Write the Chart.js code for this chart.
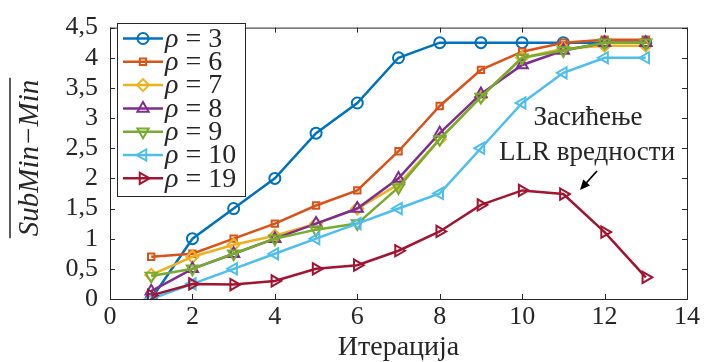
<!DOCTYPE html>
<html>
<head>
<meta charset="utf-8">
<script src="https://cdn.jsdelivr.net/npm/chart.js@4/dist/chart.umd.min.js"></script>
<style>
  html, body { margin: 0; padding: 0; background: #fff; }
  #wrap { width: 706px; height: 362px; position: relative; }
</style>
</head>
<body>
<div id="wrap"><canvas id="c" width="706" height="362"></canvas></div>
<script>
// Iteration index and average SubMin−Min per iteration for several ρ values
const iterations = [1, 2, 3, 4, 5, 6, 7, 8, 9, 10, 11, 12, 13];
const rho3  = [0, 1, 1.5, 2, 2.75, 3.25, 4, 4.25, 4.25, 4.25, 4.25, 4.25, 4.25];
const rho6  = [0.7, 0.75, 1, 1.25, 1.55, 1.8, 2.45, 3.2, 3.8, 4.1, 4.25, 4.3, 4.3];
const rho7  = [0.4, 0.7, 0.9, 1.05, 1.25, 1.5, 1.9, 2.65, 3.35, 4.0, 4.15, 4.2, 4.2];
const rho8  = [0.13, 0.5, 0.75, 1.0, 1.25, 1.5, 2.0, 2.75, 3.4, 3.88, 4.12, 4.25, 4.25];
const rho9  = [0.38, 0.5, 0.75, 1.0, 1.15, 1.25, 1.85, 2.65, 3.35, 4.0, 4.12, 4.25, 4.25];
const rho10 = [0, 0.25, 0.5, 0.75, 1.0, 1.25, 1.5, 1.75, 2.5, 3.25, 3.75, 4.0, 4.0];
const rho19 = [0.06, 0.25, 0.24, 0.3, 0.5, 0.56, 0.8, 1.12, 1.56, 1.8, 1.74, 1.11, 0.36];

const rhoLabels = ['3', '6', '7', '8', '9', '10', '19'];
const xTicks = [0, 2, 4, 6, 8, 10, 12, 14];
const yTicks = [0, 0.5, 1, 1.5, 2, 2.5, 3, 3.5, 4, 4.5];
const xTitle = 'Итерација';
const yTitle = 'SubMin−Min';
const noteLines = ['Засићење', 'LLR вредности'];

const SERIF = "'Liberation Serif'";
const INK = '#262626';

const seriesValues = [rho3, rho6, rho7, rho8, rho9, rho10, rho19];
const styles = [
  { color: '#0072BD', point: 'circle',   rot: 0,   r: 5.5 },
  { color: '#D95319', point: 'rect',     rot: 0,   r: 4.5 },
  { color: '#EDB120', point: 'rectRot',  rot: 0,   r: 6 },
  { color: '#7E2F8E', point: 'triangle', rot: 0,   r: 6.5 },
  { color: '#77AC30', point: 'triangle', rot: 180, r: 6.5 },
  { color: '#4DBEEE', point: 'triangle', rot: 270, r: 6.5 },
  { color: '#A2142F', point: 'triangle', rot: 90,  r: 6.5 }
];

const datasets = seriesValues.map((vals, i) => ({
  label: 'ρ = ' + rhoLabels[i],
  data: iterations.map((x, k) => ({ x: x, y: vals[k] })),
  borderColor: styles[i].color,
  backgroundColor: styles[i].color,
  borderWidth: 2.5,
  pointStyle: styles[i].point,
  pointRotation: styles[i].rot,
  pointRadius: styles[i].r,
  pointBorderWidth: 2,
  pointBorderColor: styles[i].color,
  pointBackgroundColor: 'rgba(0,0,0,0)',
  tension: 0,
  order: seriesValues.length - i
}));

// Box frame with inward ticks on all sides, titles, note and legend
const framePlugin = {
  id: 'frame',
  beforeDatasetsDraw(chart) {
    const { ctx, chartArea: a, scales } = chart;
    ctx.save();
    ctx.strokeStyle = INK;
    ctx.lineWidth = 1;
    ctx.strokeRect(a.left + 0.5, a.top + 0.5, a.right - a.left, a.bottom - a.top);
    const tl = 5;
    ctx.beginPath();
    xTicks.forEach(v => {
      const px = Math.round(scales.x.getPixelForValue(v)) + 0.5;
      ctx.moveTo(px, a.bottom); ctx.lineTo(px, a.bottom - tl);
      ctx.moveTo(px, a.top); ctx.lineTo(px, a.top + tl);
    });
    yTicks.forEach(v => {
      const py = Math.round(scales.y.getPixelForValue(v)) + 0.5;
      ctx.moveTo(a.left, py); ctx.lineTo(a.left + tl, py);
      ctx.moveTo(a.right, py); ctx.lineTo(a.right - tl, py);
    });
    ctx.stroke();
    ctx.restore();
  },
  afterDatasetsDraw(chart) {
    const { ctx, chartArea: a } = chart;
    ctx.save();
    // axis titles
    ctx.fillStyle = INK;
    ctx.textAlign = 'center';
    ctx.textBaseline = 'alphabetic';
    ctx.font = '28px ' + SERIF;
    ctx.fillText(xTitle, (a.left + a.right) / 2, 355);

    ctx.save();
    ctx.translate(38, 158);
    ctx.rotate(-Math.PI / 2);
    ctx.font = 'italic 29px ' + SERIF;
    const w = ctx.measureText(yTitle).width;
    ctx.fillText(yTitle, 0, 0);
    ctx.strokeStyle = INK;
    ctx.lineWidth = 1.5;
    ctx.beginPath();
    ctx.moveTo(-w / 2 - 2, -28);
    ctx.lineTo(w / 2 + 2, -28);
    ctx.stroke();
    ctx.restore();

    // note text and arrow
    ctx.font = '27px ' + SERIF;
    ctx.fillStyle = INK;
    ctx.textAlign = 'center';
    ctx.textBaseline = 'middle';
    ctx.fillText(noteLines[0], 588, 118);
    ctx.fillText(noteLines[1], 587, 153);

    const x1 = 597, y1 = 171, x2 = 580, y2 = 190;
    const ang = Math.atan2(y2 - y1, x2 - x1);
    ctx.strokeStyle = '#000';
    ctx.fillStyle = '#000';
    ctx.lineWidth = 1.8;
    ctx.beginPath();
    ctx.moveTo(x1, y1);
    ctx.lineTo(x2 - 5 * Math.cos(ang), y2 - 5 * Math.sin(ang));
    ctx.stroke();
    ctx.beginPath();
    ctx.moveTo(x2, y2);
    ctx.lineTo(x2 - 10 * Math.cos(ang) + 4.5 * Math.sin(ang), y2 - 10 * Math.sin(ang) - 4.5 * Math.cos(ang));
    ctx.lineTo(x2 - 10 * Math.cos(ang) - 4.5 * Math.sin(ang), y2 - 10 * Math.sin(ang) + 4.5 * Math.cos(ang));
    ctx.closePath();
    ctx.fill();

    // legend box
    const bx = 117, by = 23, bw = 128, bh = 173;
    ctx.fillStyle = '#fff';
    ctx.fillRect(bx, by, bw, bh);
    ctx.strokeStyle = INK;
    ctx.lineWidth = 1;
    ctx.strokeRect(bx + 0.5, by + 0.5, bw, bh);
    chart.data.datasets.forEach((ds, i) => {
      const cy = 38.5 + i * 23.3;
      ctx.strokeStyle = ds.borderColor;
      ctx.lineWidth = 2.5;
      ctx.beginPath();
      ctx.moveTo(123, cy); ctx.lineTo(163, cy);
      ctx.stroke();
      ctx.lineWidth = 2;
      ctx.fillStyle = 'rgba(0,0,0,0)';
      Chart.helpers.drawPoint(ctx, {
        pointStyle: ds.pointStyle,
        rotation: ds.pointRotation,
        radius: ds.pointRadius,
        borderWidth: 2
      }, 143, cy);
      ctx.fillStyle = INK;
      ctx.textAlign = 'left';
      ctx.textBaseline = 'middle';
      ctx.font = 'italic 28px ' + SERIF;
      ctx.fillText('ρ', 165, cy + 1);
      const rw = ctx.measureText('ρ').width;
      ctx.font = '28px ' + SERIF;
      ctx.fillText(' = ' + rhoLabels[i], 165 + rw, cy + 1);
    });
    ctx.restore();
  }
};

// software-backed 2D context for the chart
const canvasEl = document.getElementById('c');
const ctx2d = canvasEl.getContext('2d', { willReadFrequently: true });

const chart = new Chart(ctx2d, {
  type: 'line',
  data: { datasets },
  options: {
    responsive: false,
    animation: false,
    layout: { padding: { top: 21, right: 19, left: 0, bottom: 0 } },
    plugins: { legend: { display: false }, tooltip: { enabled: false } },
    scales: {
      x: {
        type: 'linear',
        min: 0, max: 14,
        afterBuildTicks: s => { s.ticks = xTicks.map(v => ({ value: v })); },
        afterFit: s => { s.height = 63; },
        grid: { display: false, drawTicks: false },
        border: { display: false },
        ticks: { color: INK, font: { family: SERIF, size: 26 }, padding: 3, maxRotation: 0, autoSkip: false }
      },
      y: {
        min: 0, max: 4.5,
        afterBuildTicks: s => { s.ticks = yTicks.map(v => ({ value: v })); },
        afterFit: s => { s.width = 110; },
        grid: { display: false, drawTicks: false },
        border: { display: false },
        ticks: {
          color: INK,
          font: { family: SERIF, size: 26 },
          padding: 12,
          autoSkip: false,
          callback: v => String(v).replace('.', ',')
        }
      }
    }
  },
  plugins: [framePlugin]
});
</script>
</body>
</html>
